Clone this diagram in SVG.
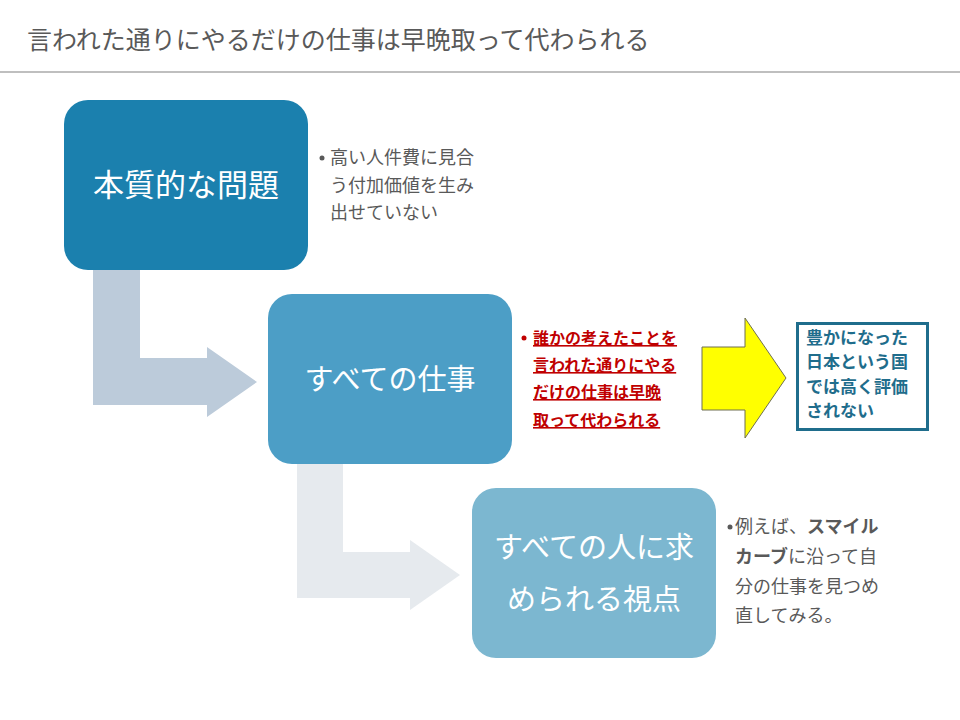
<svg xmlns="http://www.w3.org/2000/svg" width="960" height="720" viewBox="0 0 960 720">
<style>
text{font-family:"Noto Sans CJK JP","Noto Sans",sans-serif}
.title{font-size:25px;fill:#595959}
.boxt{font-size:29px;fill:#ffffff;text-anchor:middle}
.side{font-size:18px;fill:#595959}
.red{font-size:16px;fill:#c00000;font-weight:bold;text-decoration:underline}
.blue{font-size:17px;fill:#1f6d8c;font-weight:bold}
.b{font-weight:bold}
</style>
<rect width="960" height="720" fill="#ffffff"/>
<text class="title" x="27" y="49">言われた通りにやるだけの仕事は早晩取って代わられる</text>
<rect x="0" y="71" width="960" height="2" fill="#bfbfbf"/>
<g id="connectors">
<path d="M93,265 H140 V358 H207 V347 L257,382 L207,417 V405 H93 Z" fill="#bccbda"/>
<path d="M297,460 H343 V552 H410 V540 L460,575 L410,610 V598 H297 Z" fill="#e6eaee"/>
<path d="M702,347 H745 V318 L786,378 L745,438 V410 H702 Z" fill="#ffff00" stroke="#6f6f50" stroke-width="1"/>
</g>
<g id="node1">
<rect x="64" y="100" width="244" height="170" rx="24" fill="#1b80ae"/>
<text class="boxt" x="186" y="196" style="font-size:31px">本質的な問題</text>
</g>
<g id="node2">
<rect x="268" y="294" width="244" height="170" rx="24" fill="#4c9ec6"/>
<text class="boxt" x="390" y="390">すべての仕事</text>
</g>
<g id="node3">
<rect x="472" y="488" width="244" height="170" rx="24" fill="#7cb7d0"/>
<text class="boxt" x="594" y="558">すべての人に求</text>
<text class="boxt" x="594" y="610">められる視点</text>
</g>
<g id="note1">
<circle cx="322" cy="158" r="2.5" fill="#595959"/>
<text class="side" x="330" y="164">高い人件費に見合</text>
<text class="side" x="330" y="192">う付加価値を生み</text>
<text class="side" x="330" y="219">出せていない</text>
</g>
<g id="note2">
<circle cx="524" cy="338" r="2.5" fill="#c00000"/>
<text class="red" x="533" y="344">誰かの考えたことを</text>
<text class="red" x="533" y="371">言われた通りにやる</text>
<text class="red" x="533" y="398">だけの仕事は早晩</text>
<text class="red" x="533" y="426">取って代わられる</text>
</g>
<g id="result">
<rect x="797.5" y="323.5" width="130" height="106" fill="#ffffff" stroke="#1f6d8c" stroke-width="3"/>
<text class="blue" x="806" y="344">豊かになった</text>
<text class="blue" x="806" y="368">日本という国</text>
<text class="blue" x="806" y="393">では高く評価</text>
<text class="blue" x="806" y="417">されない</text>
</g>
<g id="note3">
<circle cx="730" cy="527" r="2.5" fill="#595959"/>
<text class="side" x="735" y="533">例えば、<tspan class="b">スマイル</tspan></text>
<text class="side" x="735" y="563"><tspan class="b">カーブ</tspan>に沿って自</text>
<text class="side" x="735" y="593">分の仕事を見つめ</text>
<text class="side" x="735" y="622">直してみる。</text>
</g>
</svg>
